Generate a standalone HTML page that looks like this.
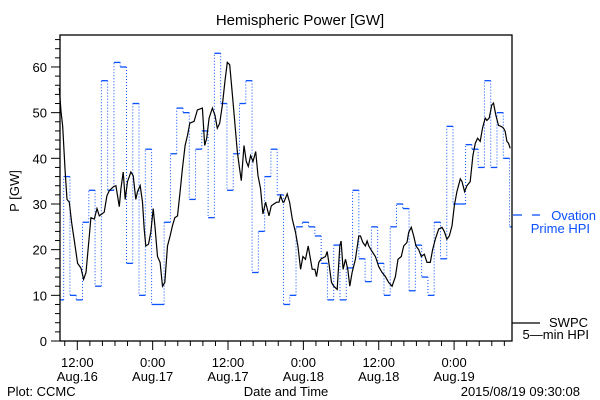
<!DOCTYPE html>
<html><head><meta charset="utf-8"><style>
html,body{margin:0;padding:0;background:#fff;}
svg{display:block;font-family:"Liberation Sans",sans-serif;}
</style></head><body>
<svg id="chart" width="600" height="400" viewBox="0 0 600 400" xmlns="http://www.w3.org/2000/svg">
<rect x="0" y="0" width="600" height="400" fill="#fff"/>
<text x="300" y="25" font-size="15" text-anchor="middle" fill="#000">Hemispheric Power [GW]</text>
<text transform="translate(19,191) rotate(-90)" font-size="13" text-anchor="middle" fill="#000">P [GW]</text>
<g id="yticks"></g>
<g id="xticks"></g>
<g id="series"></g>
<rect x="60" y="35" width="452" height="306" fill="none" stroke="#000" stroke-width="1.3"/>
<text x="286" y="396" font-size="13" text-anchor="middle" fill="#000">Date and Time</text>
<text x="7" y="396" font-size="13" fill="#000">Plot: CCMC</text>
<text x="580" y="396" font-size="13" text-anchor="end" fill="#000">2015/08/19 09:30:08</text>
<g>
<line x1="513" y1="215" x2="522" y2="215" stroke="#0a50ff" stroke-width="1.3"/>
<line x1="532" y1="215" x2="540" y2="215" stroke="#0a50ff" stroke-width="1.3"/>
<text x="596" y="220" font-size="13" text-anchor="end" fill="#0a50ff">Ovation</text>
<text x="590" y="233" font-size="13" text-anchor="end" fill="#0a50ff">Prime HPI</text>
</g>
<g>
<line x1="512" y1="323" x2="540" y2="323" stroke="#000" stroke-width="1.3"/>
<text x="588" y="327" font-size="13" text-anchor="end" fill="#000">SWPC</text>
<text x="589" y="339" font-size="13" text-anchor="end" fill="#000">5—min HPI</text>
</g>
</svg>
<script>
const yTickValues=[0,10,20,30,40,50,60];
const xTickHours=[12,24,36,48,60,72];
const xTickTimeLabels=["12:00","0:00","12:00","0:00","12:00","0:00"];
const xTickDateLabels=["Aug.16","Aug.17","Aug.17","Aug.18","Aug.18","Aug.19"];
const ovationStartHour=8.83;
const ovationValues=[9,36,10,9,26,33,12,57,33,61,60,17,52,10,42,8,8,26,41,51,50,31,42,46,27,63,52,33,41,52,57,15,24,36,42,32,8,10,25,26,25,23,17,9,21,9,16,33,18,13,25,17,10,25,30,29,11,21,14,10,26,18,47,30,30,43,42,38,57,38,50,40,25];
const swpcHours=[9.14,9.40,9.67,10.04,10.36,10.73,11.10,11.52,12.05,12.58,13.01,13.38,13.91,14.17,14.70,15.13,15.50,16.29,16.71,17.09,17.77,18.14,18.68,18.94,19.31,19.63,20.0,20.53,20.90,21.32,21.59,22.01,22.38,22.65,22.91,23.34,23.71,24.08,24.40,24.77,25.19,25.56,25.93,26.36,26.78,27.15,27.52,27.95,28.37,28.74,29.17,29.54,29.91,30.60,31.13,31.92,32.29,32.61,32.98,33.51,33.93,34.30,34.67,35.10,35.52,35.89,36.26,36.69,37.06,37.48,37.85,38.12,38.54,38.91,39.23,39.60,39.97,40.40,40.77,41.19,41.56,41.99,42.52,42.89,43.31,43.73,44.11,44.37,44.74,44.90,45.43,45.80,46.23,46.75,47.13,47.55,47.92,48.34,48.77,49.14,49.40,49.83,50.09,50.46,50.83,51.52,51.79,52.05,52.48,52.85,53.38,53.80,54.01,54.33,54.70,55.07,55.39,55.76,56.29,56.82,57.09,57.46,57.88,58.15,58.41,58.94,59.47,60.00,60.53,61.06,61.59,62.12,62.65,63.07,63.60,63.97,64.50,64.77,65.19,65.56,65.93,66.36,66.78,67.26,67.68,68.21,68.58,69.01,69.54,70.07,70.44,70.86,71.23,71.66,72.03,72.45,72.98,73.25,73.67,74.04,74.57,75.0,75.37,75.74,76.16,76.53,76.95,77.22,77.59,78.01,78.28,78.65,79.07,79.50,79.87,80.13,80.40,80.66,80.93];
const swpcValues=[55.4,50.3,47,37.7,31,30.4,26,22,17,16,13.5,15,23,27,26.7,29,27.4,28.2,31.8,32.9,33.8,34,29.4,33.3,37,31,34.9,37,36.2,31,32.7,34,30.4,24.5,20.8,21.2,23.8,29,24.5,18.5,17.2,12,12.8,20.8,23,25.2,27,27.4,32.7,37.7,42.8,45,47.7,48.1,50.6,51,42.8,44.4,48.8,51,49.4,46.6,47.7,51.7,57,61,60.5,53.9,48.1,41.5,37.7,35.1,42.8,39.3,38.2,40.6,39.3,41.5,36.2,33.3,27.8,30.4,27.4,29.6,30,30.4,30.4,31.8,30.4,30.4,32.2,30.4,26.7,23.8,20.8,15.7,18.5,17.9,20.8,17.9,15.7,15.7,14.1,17.2,18,18.5,19.6,17.2,12.8,12,11.3,20.8,21.9,15.7,17.9,15.7,12,15,17.9,23,23,21.6,20.8,21.9,20.8,19.6,18.5,16.3,15,14.1,12.8,12,14.1,17.9,18.5,20.8,21.6,23.8,24.9,23,20.8,20,18.5,19,17.2,17.2,20,22.3,24.5,24.9,24,22.3,23,25.2,29.6,32.7,35.5,34.9,32.7,34,34.9,40.6,43.3,44.4,43.7,46.6,48.8,48.3,48.8,51.7,52.1,49.4,47.2,47,46.6,45.9,43.7,43.3,42.2];

const NS="http://www.w3.org/2000/svg";
const X0=60,X1=512,Y0=341,Y1=35;
function xScale(t){return 77.3+(t-12)*6.28;}
function yScale(v){return 341-v*4.567;}
function mk(tag,attrs,parent){const e=document.createElementNS(NS,tag);for(const k in attrs)e.setAttribute(k,attrs[k]);parent.appendChild(e);return e;}
const yg=document.getElementById('yticks');
for(let v=0;v<=66;v+=2){
  const y=yScale(v);const major=v%10===0;
  const tk=mk('line',{x1:major?51:55,x2:60,y1:y,y2:y,stroke:'#000','stroke-width':1},yg);
  
  
}
yTickValues.forEach(v=>{
  const t=mk('text',{x:47,y:yScale(v)+5,'font-size':13,'text-anchor':'end',fill:'#000'},yg);
  t.textContent=String(v);
  
  
});
const xg=document.getElementById('xticks');
for(let h=10;h<=80;h+=2){
  const x=xScale(h);const major=h%12===0;
  const tk=mk('line',{x1:x,x2:x,y1:341,y2:major?350:346,stroke:'#000','stroke-width':1},xg);
  
  
}
xTickHours.forEach((h,i)=>{
  const x=xScale(h);
  const a=mk('text',{x:x,y:367,'font-size':13,'text-anchor':'middle',fill:'#000'},xg);
  a.textContent=xTickTimeLabels[i];
  
  
  const b=mk('text',{x:x,y:381,'font-size':13,'text-anchor':'middle',fill:'#000'},xg);
  b.textContent=xTickDateLabels[i];
  
  
});
const sg=document.getElementById('series');
function clampX(x){return Math.max(X0,Math.min(X1,x));}
// Ovation steps
const og=mk('g',{},sg);


ovationValues.forEach((v,i)=>{
  const xa=clampX(xScale(ovationStartHour+i)),xb=clampX(xScale(ovationStartHour+i+1));
  const y=yScale(v);
  const seg=mk('line',{x1:xa,x2:xb,y1:y,y2:y,stroke:'#0a50ff','stroke-width':1.3},og);
  
  
  if(i>0){
    const yp=yScale(ovationValues[i-1]);
    const vl=mk('line',{x1:xa,x2:xa,y1:yp,y2:y,stroke:'#0a50ff','stroke-width':1,'stroke-dasharray':'1 2'},og);
    
    
  }
});
// SWPC line
const pts=swpcHours.map((h,i)=>xScale(h).toFixed(1)+','+yScale(swpcValues[i]).toFixed(1)).join(' ');
const pl=mk('polyline',{points:pts,fill:'none',stroke:'#000','stroke-width':1.2},sg);


</script>
</body></html>
